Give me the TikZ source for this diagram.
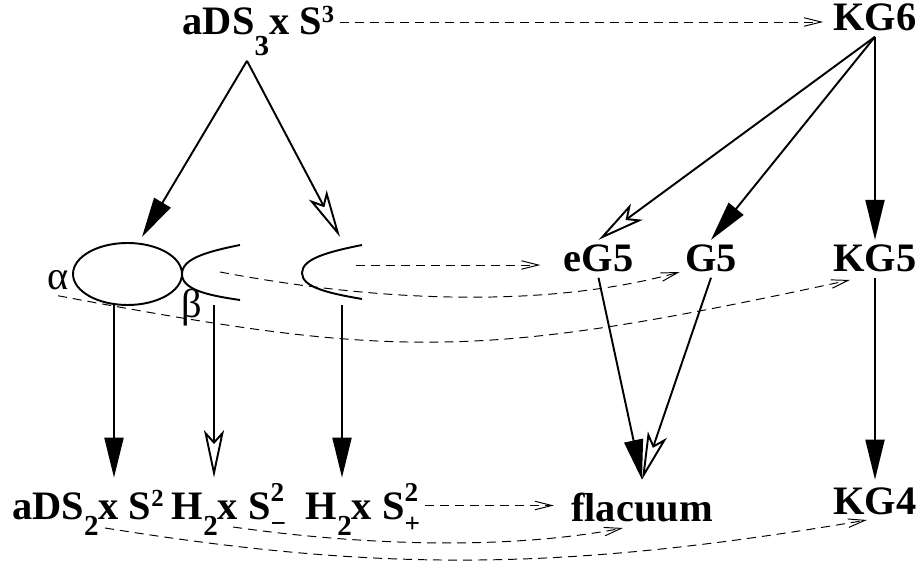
\documentclass[tikz,border=0pt]{standalone}
\usepackage{fontspec}
\setmainfont{Liberation Serif}
\usetikzlibrary{arrows.meta,calc}

% lowered and raised indices of the space names
\newcommand\dnidx[2][0.38em]{\raisebox{-#1}{\fontsize{16.5}{16}\selectfont #2}}
\newcommand\upidx[2][0.33em]{\raisebox{#1}{\fontsize{14}{14}\selectfont #2}}
\newcommand\bothidx[2]{\rlap{\raisebox{0.46em}{\fontsize{15.5}{15}\selectfont #1}}%
  \raisebox{-0.3em}{\fontsize{15.5}{15}\selectfont #2}}

\begin{document}
\begin{tikzpicture}[x=0.02cm, y=-0.02cm,
  lbl/.style={inner sep=0.1cm, anchor=base, font=\fontsize{23}{27}\selectfont\bfseries},
  grk/.style={inner sep=0.1cm, anchor=base, font=\fontsize{23}{27}\selectfont},
  lowrow/.style={text height=0.74cm, text depth=0.16cm},
  full/.style={line width=1.1pt, -{Triangle[length=0.8cm, width=0.38cm]}},
  hollow/.style={line width=1.1pt, -{Stealth[open, length=0.95cm, width=0.4cm, inset=0.22cm]}},
  link/.style={line width=0.55pt, dash pattern=on 0.18cm off 0.12cm,
    -{Straight Barb[length=0.34cm, width=0.17cm]}}]
  \useasboundingbox (0,0) rectangle (921,570);

  % labels
  \node[lbl] (ads3) at (258.5,35) {aDS\dnidx[0.5em]{3}x S\upidx[0.3em]{3}};
  \node[lbl] (kg6) at (875,31) {KG6};
  \node[lbl] (eg5) at (598.5,272) {eG5};
  \node[lbl] (g5) at (711,272) {G5};
  \node[lbl] (kg5) at (875,272) {KG5};
  \node[lbl, lowrow] (ads2) at (88,520) {aDS\dnidx{2}x S\upidx{2}};
  \node[lbl, lowrow] (hmin) at (229,520) {H\dnidx{2}x S\bothidx{2}{−}};
  \node[lbl, lowrow] (hpls) at (363,520) {H\dnidx{2}x S\bothidx{2}{+}};
  \node[lbl, lowrow] (flac) at (642,522) {flacuum};
  \node[lbl, lowrow, text height=0.6cm] (kg4) at (875,515) {KG4};
  \node[grk] (alpha) at (58,290) {α};
  \node[grk] (beta) at (192,318) {β};

  % ellipse and hyperbola branches
  \draw[line width=1.1pt] (127.5,274) ellipse [x radius=54.5, y radius=31];
  \draw[line width=1.1pt] (240,245) .. controls (205,252) and (182,259) .. (182,274)
    .. controls (182,289) and (205,295) .. (240,300);
  \draw[line width=1.1pt] (362,245) .. controls (327,252) and (302,259) .. (302,273)
    .. controls (302,287) and (327,293) .. (362,299);
  \coordinate (ellN) at (142,237);
  \coordinate (ellS) at (114,305);
  \coordinate (hypS) at (214,305);
  \coordinate (hypin) at (220,272);
  \coordinate (brN) at (340,237);
  \coordinate (brS) at (342,305);
  \coordinate (brin) at (356,265);

  % solid arrows
  \draw[full] ([xshift=-0.23cm]ads3.south) -- (ellN);
  \draw[hollow] ([xshift=-0.23cm]ads3.south) -- (brN);
  \draw[full] (ellS) -- (ellS |- ads2.north);
  \draw[hollow] (hypS) -- (hypS |- hmin.north);
  \draw[full] (brS) -- (brS |- hpls.north);
  \draw[hollow] (kg6.south) -- (eg5.north);
  \draw[full] (kg6.south) -- (g5.north);
  \draw[full] (kg6.south) -- (kg5.north);
  \draw[full] (eg5.south) -- (flac.north);
  \draw[hollow] (g5.south) -- (flac.north);
  \draw[full] (kg5.south) -- (kg4.north);

  % dashed arrows
  \draw[link] ($(ads3.base east)+(0,-13)$) -- ($(kg6.base west)+(-5,-9)$);
  \draw[link] (brin) -- ($(eg5.base west)+(-18,-7)$);
  \draw[link] (hypin) .. controls (400,306) and (560,305) .. (g5.base west);
  \draw[link] (alpha.south) .. controls (400,360) and (480,360) .. ($(kg5.base)+(-25,8)$);
  \draw[link] (hpls.east) -- ($(hpls.east -| flac.west)+(-12,0)$);
  \draw[link] ($(hmin.base)+(4,7)$) .. controls (380,548) and (520,548) .. ($(flac.base)+(-19,6)$);
  \draw[link] ($(ads2.base)+(17,8)$) .. controls (380,572) and (560,572) .. ($(kg4.base)+(-8,5)$);
\end{tikzpicture}
\end{document}
